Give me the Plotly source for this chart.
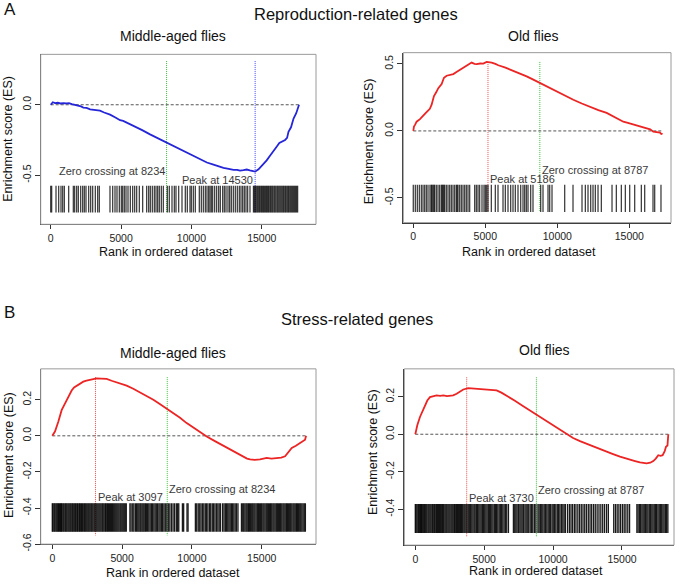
import plotly.graph_objects as go

W, H = 685, 588
FONT = "Liberation Sans, Arial, Helvetica, sans-serif"

# ---- running enrichment score curves (rank, ES) ----
a1_rank = [0, 150, 310, 500, 700, 900, 1140, 1300, 1500, 1750,
           1970, 2150, 2320, 2550, 2800, 3100, 3500, 3800, 4220, 4600,
           4930, 5150, 5400, 5880, 6500, 7060, 7650, 8250, 8850, 9430,
           10000, 10620, 11100, 11570, 11950, 12280, 12650, 12990, 13250, 13460,
           13700, 13940, 14150, 14410, 14530, 14770, 14950, 15120, 15350, 15600,
           15850, 16070, 16250, 16430, 16660, 16800, 16900, 17080, 17260, 17450,
           17610, 17650]
a1_es = [0.0, 0.018, 0.012, 0.014, 0.009, 0.012, 0.010, 0.012, 0.005, 0.0,
         -0.003, -0.012, -0.020, -0.022, -0.033, -0.036, -0.042, -0.055, -0.070, -0.090,
         -0.110, -0.115, -0.126, -0.150, -0.180, -0.210, -0.240, -0.268, -0.298, -0.327,
         -0.356, -0.386, -0.410, -0.425, -0.440, -0.449, -0.456, -0.463, -0.462, -0.468,
         -0.465, -0.460, -0.466, -0.472, -0.475, -0.458, -0.440, -0.425, -0.395, -0.360,
         -0.330, -0.297, -0.272, -0.262, -0.250, -0.235, -0.192, -0.160, -0.098, -0.060,
         -0.010, 0.0]

a2_rank = [0, 46, 120, 231, 463, 694, 870, 1042, 1150, 1273,
           1435, 1600, 1736, 1968, 2130, 2315, 2550, 2778, 3000, 3241,
           3500, 3704, 4051, 4250, 4398, 4650, 4861, 5093, 5300, 5440,
           5700, 5903, 6400, 6945, 7400, 7871, 8300, 8797, 9400, 9954,
           10500, 11112, 11700, 12270, 12850, 13427, 14000, 14585, 14900, 15279,
           15700, 16205, 16450, 16668, 16900, 17131, 17247, 17270]
a2_es = [0.0, 0.032, 0.045, 0.069, 0.088, 0.118, 0.135, 0.154, 0.165, 0.196,
         0.260, 0.290, 0.319, 0.350, 0.397, 0.412, 0.418, 0.424, 0.440, 0.456,
         0.474, 0.490, 0.510, 0.500, 0.498, 0.503, 0.502, 0.515, 0.514, 0.510,
         0.500, 0.490, 0.472, 0.449, 0.430, 0.407, 0.385, 0.358, 0.327, 0.294,
         0.263, 0.233, 0.205, 0.179, 0.156, 0.135, 0.105, 0.069, 0.060, 0.049,
         0.035, 0.020, 0.012, -0.005, -0.008, -0.012, -0.025, -0.015]

b1_rank = [0, 191, 430, 669, 850, 1027, 1200, 1386, 1560, 1744,
           2000, 2222, 2450, 2700, 2950, 3177, 3500, 3894, 4250, 4611,
           5000, 5327, 5800, 6283, 6750, 7239, 7700, 8194, 8650, 9150,
           9600, 10106, 10600, 11061, 11550, 12017, 12500, 12972, 13350, 13689,
           13950, 14167, 14500, 14883, 15100, 15361, 15700, 16078, 16400, 16675,
           16900, 17153, 17450, 17750, 17950, 18108, 18180]
b1_es = [0.0, 0.024, 0.078, 0.142, 0.170, 0.196, 0.225, 0.251, 0.268, 0.278,
         0.290, 0.300, 0.306, 0.311, 0.315, 0.318, 0.317, 0.315, 0.305, 0.296,
         0.287, 0.278, 0.261, 0.242, 0.222, 0.200, 0.176, 0.151, 0.126, 0.100,
         0.072, 0.045, 0.020, -0.004, -0.025, -0.045, -0.066, -0.085, -0.103, -0.118,
         -0.126, -0.131, -0.133, -0.131, -0.127, -0.122, -0.126, -0.125, -0.121, -0.113,
         -0.092, -0.067, -0.055, -0.040, -0.032, -0.022, 0.0]

b2_rank = [0, 145, 339, 581, 871, 1064, 1300, 1548, 1800, 2032,
           2300, 2516, 2750, 3000, 3250, 3483, 3846, 4250, 4693, 5100,
           5540, 5902, 6250, 6628, 7200, 7838, 8450, 9048, 9550, 10015,
           10500, 10983, 11450, 11950, 12450, 12918, 13400, 13885, 14350, 14853,
           15200, 15578, 15950, 16304, 16550, 16788, 17050, 17271, 17450, 17635,
           17800, 17950, 18100, 18192, 18300, 18360]
b2_es = [0.0, 0.048, 0.092, 0.136, 0.180, 0.198, 0.204, 0.207, 0.205, 0.207,
         0.203, 0.204, 0.208, 0.216, 0.228, 0.239, 0.246, 0.244, 0.242, 0.240,
         0.234, 0.234, 0.222, 0.207, 0.180, 0.150, 0.121, 0.092, 0.070, 0.048,
         0.023, -0.002, -0.020, -0.037, -0.052, -0.067, -0.080, -0.094, -0.106, -0.120,
         -0.128, -0.138, -0.143, -0.150, -0.152, -0.156, -0.152, -0.143, -0.130, -0.112,
         -0.115, -0.112, -0.090, -0.067, -0.060, 0.0]

# ---- gene set hit positions (barcode) ----
a1_hits = [0, 69, 377, 566, 732, 851, 969, 1277, 1609, 1703, 1845, 1964, 2130, 2272,
           2390, 2509, 2698, 2840, 2983, 3172, 3338, 3456, 4214, 4404, 4570, 4712,
           4878, 5020, 5115, 5233, 5352, 5494, 5660, 5825, 5968, 6110, 6299, 6536,
           6820, 6963, 7081, 7223, 7365, 7484, 7602, 7721, 7863, 8005, 8289, 8431,
           8621, 8787, 8905, 9095, 9332, 9568, 9710, 9900, 9995, 10137, 10279, 10563,
           10706, 10848, 10990, 11108, 11227, 11321, 11416, 11511, 11653, 11795, 11937,
           12056, 12222, 12340, 12459, 12601, 12719, 12838, 12980, 13122, 13264, 13406,
           13525, 13643, 13762, 13880, 13998, 14164, 14410, 14470, 14535, 14590, 14660,
           14720, 14790, 14850, 14930, 14990, 15060, 15130, 15190, 15270, 15330, 15400,
           15470, 15530, 15610, 15670, 15740, 15800, 15880, 15940, 16010, 16090, 16150,
           16220, 16290, 16360, 16430, 16500, 16560, 16640, 16700, 16780, 16850, 16910,
           16990, 17060, 17130, 17200, 17270, 17340, 17410, 17480, 17550]
a2_hits = [0, 141, 280, 419, 558, 674, 790, 905, 1021, 1160, 1253, 1300, 1368, 1430,
           1484, 1600, 1716, 1831, 1947, 2010, 2063, 2120, 2179, 2294, 2410, 2526,
           2642, 2757, 2873, 2989, 3050, 3105, 3220, 3336, 3452, 3568, 3683, 3799,
           3915, 4262, 4378, 4494, 4609, 4771, 4910, 5003, 5096, 5188, 5420, 5697,
           5883, 6230, 6392, 6577, 6762, 6924, 7086, 7271, 7457, 7619, 7734, 7850,
           7966, 8151, 8313, 8846, 9008, 9355, 9471, 9633, 10513, 11091, 11716, 11948,
           12133, 12318, 12480, 12642, 12828, 13059, 13800, 14101, 14448, 14726, 15027,
           15374, 15837, 16068, 16647, 16763, 17200]
b1_hits = [0, 55, 130, 190, 265, 330, 395, 450, 525, 590, 650, 705, 780, 845, 925, 985,
           1050, 1125, 1195, 1265, 1330, 1405, 1465, 1540, 1610, 1675, 1755, 1815, 1900,
           1960, 2035, 2100, 2175, 2255, 2320, 2395, 2470, 2545, 2615, 2690, 2765, 2830,
           2905, 2985, 3050, 3125, 3195, 3270, 3345, 3420, 3495, 3575, 3640, 3715, 3800,
           3865, 3945, 4015, 4095, 4170, 4245, 4320, 4400, 4475, 4550, 4625, 4700, 4775,
           4855, 4925, 5000, 5075, 5150, 5225, 5300, 5560, 5645, 5760, 5845, 5955, 6040,
           6125, 6205, 6285, 6350, 6430, 6505, 6580, 6665, 6740, 6830, 6915, 7005, 7095,
           7180, 7275, 7365, 7450, 7545, 7640, 7725, 7820, 7905, 8000, 8095, 8205, 8310,
           8420, 8535, 8650, 8760, 8885, 8980, 9060, 9320, 9410, 9650, 9725, 10250, 10345,
           10455, 10560, 10655, 10760, 10855, 10960, 11055, 11150, 11265, 11350, 11460,
           11555, 11655, 11760, 11860, 11955, 12050, 12200, 12300, 12395, 12480, 12570,
           12655, 12740, 12830, 12915, 13005, 13100, 13195, 13300, 13550, 13640, 13715,
           13800, 13885, 13960, 14045, 14120, 14200, 14285, 14360, 14440, 14515, 14600,
           14685, 14760, 14840, 14925, 15000, 15085, 15160, 15240, 15325, 15400, 15480,
           15565, 15640, 15720, 15805, 15880, 15960, 16045, 16120, 16200, 16285, 16360,
           16440, 16525, 16600, 16680, 16765, 16840, 16920, 17005, 17080, 17160, 17245,
           17320, 17400, 17485, 17560, 17640, 17725, 17800, 17880, 17965, 18050, 18130]
b2_hits = [0, 50, 120, 195, 250, 320, 385, 450, 505, 580, 655, 720, 785, 850, 930, 1000,
           1075, 1150, 1235, 1300, 1380, 1445, 1530, 1605, 1680, 1755, 1830, 1915, 1985,
           2060, 2145, 2220, 2290, 2370, 2445, 2520, 2600, 2675, 2750, 2835, 2900, 2980,
           3055, 3130, 3215, 3290, 3360, 3440, 3525, 3600, 3680, 3755, 3840, 3920, 4010,
           4100, 4185, 4270, 4345, 4440, 4525, 4610, 4695, 4780, 4870, 4955, 5040, 5125,
           5210, 5300, 5385, 5470, 5555, 5640, 5735, 5820, 5900, 5990, 6085, 6170, 6255,
           6350, 6445, 6540, 6635, 6760, 7120, 7215, 7300, 7385, 7480, 7585, 7670, 7755,
           7850, 7955, 8040, 8125, 8230, 8335, 8430, 8525, 8640, 8750, 8900, 8985, 9080,
           9175, 9260, 9355, 9450, 9545, 9640, 9725, 9820, 9925, 10010, 10105, 10200,
           10305, 10400, 10495, 10600, 10705, 10800, 10895, 11050, 11185, 11300, 11415,
           11545, 11660, 11795, 11920, 12045, 12170, 12295, 12420, 12555, 12680, 12800,
           12935, 13060, 13195, 13330, 13465, 13600, 13735, 13880, 14010, 14400, 14525,
           14650, 14775, 14900, 15035, 15160, 15285, 15420, 15550, 16080, 16165, 16260,
           16350, 16445, 16530, 16615, 16710, 16800, 16885, 16980, 17070, 17165, 17250,
           17340, 17430, 17515, 17610, 17700, 17785, 17880, 17970, 18055, 18150, 18240,
           18330]

# peak and zero crossing ranks
a1_peak, a1_zero = 14530, 8234
a2_peak, a2_zero = 5186, 8787
b1_peak, b1_zero = 3097, 8234
b2_peak, b2_zero = 3730, 8787

x_ticks = [0, 5000, 10000, 15000]
x_tick_text = ["0", "5000", "10000", "15000"]


def px(x):
    return x / W


def py(y):
    return 1 - y / H


panels = [
    dict(rank=a1_rank, es=a1_es, hits=a1_hits, peak=a1_peak, zero=a1_zero,
         curve="#2626d9", peakcol="#4646ee", dom_x=(40.7, 316), dom_y=(55, 227),
         xr=(-711, 18856), yr=(-0.849, 0.358), yt=[-0.5, 0.0], ytt=["-0.5", "0.0"],
         bar=(-0.575, -0.765), vl=(0.31, -0.77), baralpha=0.75,
         zlab=(-0.472, "right"), plab=(-0.531, "right"), title="Middle-aged flies",
         tpos=(172.5, 36.7), xlab=(166, 255), ylab=(8.5, 141)),
    dict(rank=a2_rank, es=a2_es, hits=a2_hits, peak=a2_peak, zero=a2_zero,
         curve="#ec2424", peakcol="#ee4a4a", dom_x=(403.3, 671), dom_y=(53.3, 225.3),
         xr=(-694, 17896), yr=(-0.684, 0.584), yt=[-0.5, 0.0, 0.5], ytt=["-0.5", "0.0", "0.5"],
         bar=(-0.402, -0.605), vl=(0.515, -0.605), baralpha=0.75,
         zlab=(-0.294, "left"), plab=(-0.355, "left"), title="Old flies",
         tpos=(533, 36.7), xlab=(529, 255), ylab=(369, 143)),
    dict(rank=b1_rank, es=b1_es, hits=b1_hits, peak=b1_peak, zero=b1_zero,
         curve="#ec2424", peakcol="#ee4a4a", dom_x=(40.7, 316), dom_y=(373.3, 550.7),
         xr=(-831, 18890), yr=(-0.6, 0.371), yt=[-0.6, -0.4, -0.2, 0.0, 0.2],
         ytt=["-0.6", "-0.4", "-0.2", "0.0", "0.2"],
         bar=(-0.373, -0.531), vl=(0.325, -0.552), baralpha=0.9,
         zlab=(-0.296, "left"), plab=(-0.338, "left"), title="Middle-aged flies",
         tpos=(172.5, 357.3), xlab=(173.3, 580), ylab=(8.5, 461)),
    dict(rank=b2_rank, es=b2_es, hits=b2_hits, peak=b2_peak, zero=b2_zero,
         curve="#ec2424", peakcol="#ee4a4a", dom_x=(404.3, 674), dom_y=(373.3, 551.7),
         xr=(-798, 18774), yr=(-0.592, 0.349), yt=[-0.4, -0.2, 0.0, 0.2],
         ytt=["-0.4", "-0.2", "0.0", "0.2"],
         bar=(-0.373, -0.527), vl=(0.304, -0.545), baralpha=0.9,
         zlab=(-0.297, "left"), plab=(-0.338, "left"), title="Old flies",
         tpos=(544, 354), xlab=(536, 578), ylab=(372.5, 457)),
]


def build_figure():
    fig = go.Figure()
    annotations = []
    shapes = []
    for i, p in enumerate(panels, start=1):
        xa = "x" if i == 1 else "x%d" % i
        ya = "y" if i == 1 else "y%d" % i
        # dotted peak / zero-crossing markers
        fig.add_trace(go.Scatter(x=[p["zero"], p["zero"]], y=list(p["vl"]), mode="lines",
                                 line=dict(color="#38c038", width=1, dash="1px,1px"),
                                 xaxis=xa, yaxis=ya, showlegend=False, hoverinfo="skip"))
        fig.add_trace(go.Scatter(x=[p["peak"], p["peak"]], y=list(p["vl"]), mode="lines",
                                 line=dict(color=p["peakcol"], width=1, dash="1px,1px"),
                                 xaxis=xa, yaxis=ya, showlegend=False, hoverinfo="skip"))
        # zero reference line
        fig.add_trace(go.Scatter(x=[0, p["rank"][-1]], y=[0, 0], mode="lines",
                                 line=dict(color="#555555", width=1, dash="3px,2px"),
                                 xaxis=xa, yaxis=ya, showlegend=False, hoverinfo="skip"))
        # barcode of hits
        bx, by = [], []
        for h in p["hits"]:
            bx += [h, h, None]
            by += [p["bar"][0], p["bar"][1], None]
        fig.add_trace(go.Scatter(x=bx, y=by, mode="lines",
                                 line=dict(color="rgba(0,0,0,%.2f)" % p["baralpha"], width=1.3),
                                 xaxis=xa, yaxis=ya, showlegend=False, hoverinfo="skip"))
        # running ES curve
        fig.add_trace(go.Scatter(x=p["rank"], y=p["es"], mode="lines",
                                 line=dict(color=p["curve"], width=1.8),
                                 xaxis=xa, yaxis=ya, showlegend=False))

        fig.layout["xaxis" if i == 1 else "xaxis%d" % i] = dict(
            domain=[px(p["dom_x"][0]), px(p["dom_x"][1])], anchor=ya, range=list(p["xr"]),
            tickvals=x_ticks, ticktext=x_tick_text, ticks="outside", ticklen=4,
            tickcolor="#333", showline=True, linecolor="#333", linewidth=1,
            showgrid=False, zeroline=False,
            tickfont=dict(family=FONT, size=10.5, color="#222"))
        fig.layout["yaxis" if i == 1 else "yaxis%d" % i] = dict(
            domain=[py(p["dom_y"][1]), py(p["dom_y"][0])], anchor=xa, range=list(p["yr"]),
            tickvals=p["yt"], ticktext=p["ytt"], ticks="outside", ticklen=5, tickcolor="#333",
            tickangle=-90, showline=True, linecolor="#333", linewidth=1, showgrid=False,
            zeroline=False, tickfont=dict(family=FONT, size=10.5, color="#222"))

        shapes.append(dict(type="rect", xref=xa + " domain", yref=ya + " domain",
                           x0=0, x1=1, y0=0, y1=1, line=dict(color="#9a9a9a", width=1)))

        txt = dict(family=FONT, size=11, color="#3a3a3a")
        annotations.append(dict(x=p["zero"], y=p["zlab"][0], xref=xa, yref=ya,
                                text="Zero crossing at %d" % p["zero"], showarrow=False,
                                xanchor=p["zlab"][1], yanchor="middle", font=txt))
        annotations.append(dict(x=p["peak"], y=p["plab"][0], xref=xa, yref=ya,
                                text="Peak at %d" % p["peak"], showarrow=False,
                                xanchor=p["plab"][1], yanchor="middle", font=txt))
        annotations.append(dict(x=px(p["tpos"][0]), y=py(p["tpos"][1]), xref="paper",
                                yref="paper", text=p["title"], showarrow=False,
                                xanchor="center", yanchor="middle",
                                font=dict(family=FONT, size=14, color="#111")))
        annotations.append(dict(x=px(p["xlab"][0]), y=py(p["xlab"][1]), xref="paper",
                                yref="paper", text="Rank in ordered dataset", showarrow=False,
                                xanchor="center", yanchor="middle",
                                font=dict(family=FONT, size=12.5, color="#111")))
        annotations.append(dict(x=px(p["ylab"][0]), y=py(p["ylab"][1]), xref="paper",
                                yref="paper", text="Enrichment score (ES)", showarrow=False,
                                textangle=-90, xanchor="center", yanchor="middle",
                                font=dict(family=FONT, size=12.5, color="#111")))

    # section headings
    head = dict(family=FONT, size=16.5, color="#111")
    annotations.append(dict(x=px(355.5), y=py(14), xref="paper", yref="paper",
                            text="Reproduction-related genes", showarrow=False,
                            xanchor="center", yanchor="middle", font=head))
    annotations.append(dict(x=px(357), y=py(322.7), xref="paper", yref="paper",
                            text="Stress-related genes", showarrow=False,
                            xanchor="center", yanchor="middle", font=head))
    annotations.append(dict(x=px(2), y=py(10), xref="paper", yref="paper", text="A",
                            showarrow=False, xanchor="left", yanchor="middle",
                            font=dict(family=FONT, size=17, color="#111")))
    annotations.append(dict(x=px(2), y=py(316), xref="paper", yref="paper", text="B",
                            showarrow=False, xanchor="left", yanchor="middle",
                            font=dict(family=FONT, size=17, color="#111")))

    fig.update_layout(width=W, height=H, margin=dict(l=0, r=0, t=0, b=0),
                      paper_bgcolor="white", plot_bgcolor="white",
                      annotations=annotations, shapes=shapes, showlegend=False)
    return fig


def main():
    fig = build_figure()
    # drop the browser's default body margin so the figure sits at the page origin
    fig.write_html("out.html", config={"displayModeBar": False},
                   post_script="document.body.style.margin='0px';"
                               "document.body.style.overflow='hidden';")


if __name__ == "__main__":
    main()
